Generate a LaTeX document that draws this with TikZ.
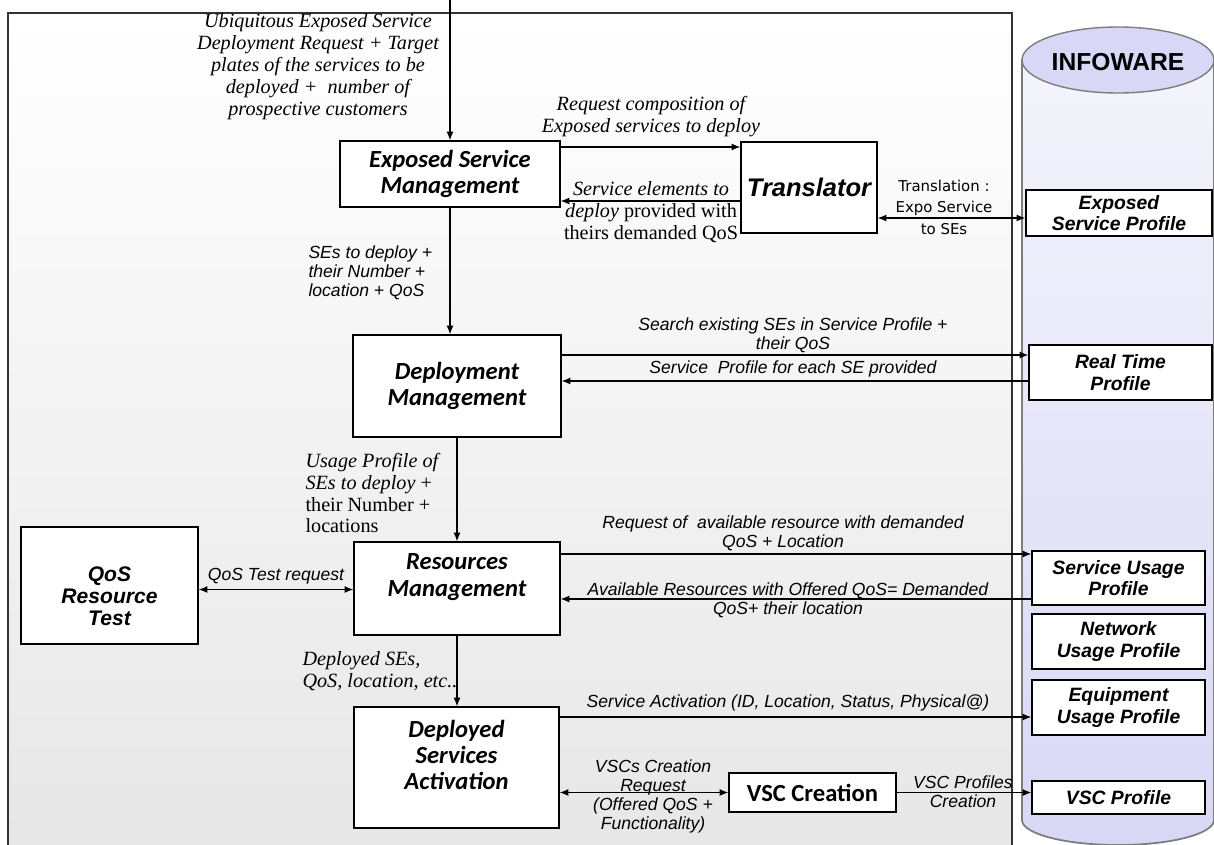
\documentclass[tikz,border=0pt]{standalone}
\usepackage{fontspec}
\setmainfont{Liberation Serif}
\newfontfamily\arialfont{Liberation Sans}
\newfontfamily\calibrifont{Carlito}
\newfontfamily\tahomafont{DejaVu Sans}
\usetikzlibrary{arrows.meta}
\newcommand{\px}{0.02cm}
\definecolor{infoware}{RGB}{216,216,246}
\definecolor{infowaretop}{RGB}{244,244,252}
\definecolor{framebot}{RGB}{230,230,230}
\definecolor{cylline}{RGB}{125,125,125}

\begin{document}
\begin{tikzpicture}[x=0.02cm,y=-0.02cm,line width=0.6pt,>={Latex[length=5pt,width=4pt]},
    wh/.style 2 args={minimum width=#1*\px,minimum height=#2*\px},
    block/.style={draw,line width=0.8pt,fill=white,inner sep=0pt,align=center,font=\calibrifont\bfseries\itshape\fontsize{14}{15}\selectfont},
    profile/.style={draw,line width=0.8pt,fill=white,inner sep=0pt,align=center,font=\arialfont\bfseries\itshape\fontsize{11}{12.3}\selectfont},
    lbl/.style={align=center,inner sep=0pt,font=\itshape\fontsize{11.5}{12.5}\selectfont},
    slbl/.style={align=center,inner sep=0pt,font=\arialfont\itshape\fontsize{10}{10.8}\selectfont},
    arc/.style={draw,->}, biarc/.style={draw,<->}]
    \clip (0,0) rectangle (1214,845);
    \shadedraw[top color=white,bottom color=framebot,draw=black!80,line width=0.8pt] (8,13) rectangle (1012,870);

    % infoware store
    \shadedraw[top color=infowaretop,bottom color=infoware,draw=cylline,line width=1pt]
        (1022,60) -- (1022,820) arc[start angle=180,end angle=0,x radius=96,y radius=25] -- (1214,60) -- cycle;
    \filldraw[fill=infoware,draw=cylline,line width=0.8pt] (1118,60) ellipse[x radius=96,y radius=33];
    \node[font=\arialfont\bfseries\fontsize{14}{16}\selectfont] (info) at (1118,62) {INFOWARE};

    \coordinate (req) at (450,0);
    \node[block,wh={220}{66}] (esm) at (450,174) {Exposed Service\\Management};
    \node[block,wh={136}{91},font=\arialfont\bfseries\itshape\fontsize{14.5}{16}\selectfont] (tr) at (809,187.5) {Translator};
    \node[block,wh={208}{102}] (dm) at (457,386) {Deployment\\Management};
    \node[block,wh={206}{93}] (rm) at (457,588.5) {Resources\\Management\\[-4pt]\strut};
    \node[block,wh={177}{117},font=\arialfont\bfseries\itshape\fontsize{12}{12.5}\selectfont] (qos) at (109.5,585.5) {\mbox{}\\[8pt]QoS\\Resource\\Test};
    \node[block,wh={205}{121}] (dsa) at (456.5,767.5) {Deployed\\Services\\Activation\\[-5pt]\strut};
    \node[block,wh={167}{39},font=\calibrifont\bfseries\fontsize{14}{15}\selectfont] (vsc) at (812.5,792.5) {VSC Creation};

    \foreach \n/\x/\y/\w/\h/\t in {esp/1119/213/186/46/{Exposed\\Service Profile},rtp/1120.5/372.5/183/55/{Real Time\\Profile},
        sup/1118.5/578/173/54/{Service Usage\\Profile},nup/1118.5/641.5/173/55/{Network\\Usage Profile},
        eup/1118.5/707.5/173/55/{Equipment\\Usage Profile},vscp/1118.5/797.5/173/33/{VSC Profile}}{
        \node[profile,wh={\w}{\h}] (\n) at (\x,\y) {\t};
    }

    \draw[arc] (req) -- (esm.north);
    \draw[arc] ([shift={(0,-27)}]esm.east) -- ([shift={(0,-27)}]esm.east -| tr.west);
    \draw[arc] ([shift={(0,13.5)}]tr.west) -- ([shift={(0,13.5)}]tr.west -| esm.east);
    \draw[biarc] ([shift={(0,30.5)}]tr.east) -- ([shift={(0,30.5)}]tr.east -| esp.west);
    \draw[arc] (esm.south) -- (esm.south |- dm.north);
    \draw[arc] ([shift={(0,-31)}]dm.east) -- ([shift={(0,-31)}]dm.east -| rtp.west);
    \draw[arc] ([shift={(0,8.5)}]rtp.west) -- ([shift={(0,8.5)}]rtp.west -| dm.east);
    \draw[arc] (dm.south) -- (rm.north);
    \draw[arc] ([shift={(0,-34.5)}]rm.east) -- ([shift={(0,-34.5)}]rm.east -| sup.west);
    \draw[arc] ([shift={(0,21)}]sup.west) -- ([shift={(0,21)}]sup.west -| rm.east);
    \draw[biarc] ([shift={(0,4)}]qos.east) -- ([shift={(0,4)}]qos.east -| rm.west);
    \draw[arc] (rm.south) -- (rm.south |- dsa.north);
    \draw[arc] ([shift={(0,-50.5)}]dsa.east) -- ([shift={(0,-50.5)}]dsa.east -| eup.west);
    \draw[biarc] (vsc.west) -- (vsc.west -| dsa.east);
    \draw[arc] (vsc.east) -- (vsc.east -| vscp.west);

    \node[lbl] (reqtxt) at (318,67) {Ubiquitous Exposed Service\\Deployment Request + Target\\plates of the services to be\\deployed +\ \ number of\\prospective customers};
    \node[lbl] (comptxt) at (651,117) {Request composition of\\Exposed services to deploy};
    \node[lbl] (setxt) at (651,212) {Service elements to\\deploy {\upshape provided with}\\{\upshape theirs demanded QoS}};
    \node[align=center,font=\tahomafont\fontsize{8.5}{12.2}\selectfont] (transtxt) at (944,207) {Translation :\\Expo Service\\to SEs};
    \node[slbl,align=left,anchor=west] (sestxt) at (308,273) {SEs to deploy +\\their Number +\\location + QoS};
    \node[slbl] (searchtxt) at (793,335) {Search existing SEs in Service Profile +\\their QoS};
    \node[slbl] (sptxt) at (793,369) {Service\ \ Profile for each SE provided};
    \node[lbl,align=left,anchor=west] (usetxt) at (305,493) {Usage Profile of\\SEs to deploy {\upshape +}\\{\upshape their Number +}\\{\upshape locations}};
    \node[slbl] (availreqtxt) at (783,533) {Request of\ \ available resource with demanded\\QoS + Location};
    \node[slbl] (availtxt) at (788,600) {Available Resources with Offered QoS= Demanded\\QoS+ their location};
    \node[slbl] (qostxt) at (276,576) {QoS Test request};
    \node[lbl,align=left,anchor=west] (deptxt) at (302,671) {Deployed SEs,\\QoS, location, etc..};
    \node[slbl] (acttxt) at (788,703) {Service Activation (ID, Location, Status, Physical@)};
    \node[slbl] (vsctxt) at (653,796) {VSCs Creation\\Request\\(Offered QoS +\\Functionality)};
    \node[slbl] (vscptxt) at (963,792) {VSC Profiles\\Creation};
\end{tikzpicture}
\end{document}
